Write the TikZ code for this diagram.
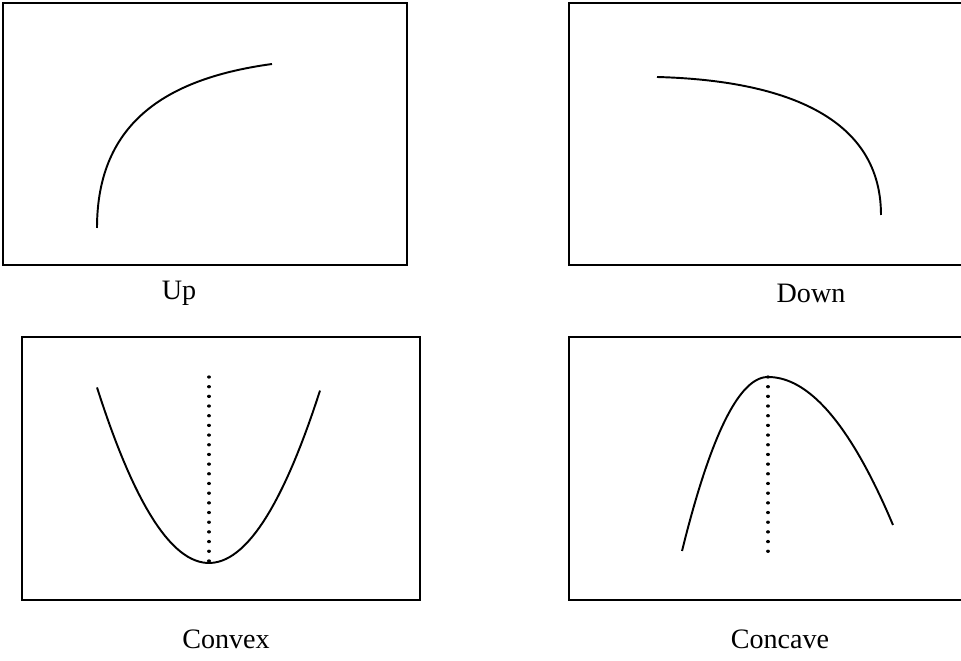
\documentclass[tikz,border=0pt]{standalone}
\usepackage{fontspec}
\setmainfont{Liberation Serif}
\usepackage{tikz}

\begin{document}
\begin{tikzpicture}[x=0.02cm,y=-0.02cm,
    panel/.style={line width=1.3pt},
    curve/.style={line width=1.1pt},
    axis/.style={line width=1.9pt,dash pattern=on 0.01pt off 5.5pt,line cap=round},
    lbl/.style={font=\fontsize{16}{19}\selectfont,inner sep=0pt}]
  \useasboundingbox (0,0) rectangle (961,661);
  % the four panels (right ones run off the page)
  \draw[panel] (3,3) rectangle (407,265);
  \draw[panel] (961,3) -- (569,3) -- (569,265) -- (961,265);
  \draw[panel] (22,337) rectangle (420,600);
  \draw[panel] (961,337) -- (569,337) -- (569,600) -- (961,600);
  % up and down
  \draw[curve] (97,228) .. controls (97,120) and (170,78) .. (272,64);
  \draw[curve] (657,77) .. controls (770,80) and (881,110) .. (881,215);
  % convex
  \draw[axis] (209,377) -- (209,563);
  \draw[curve] plot[domain=97:320,samples=60] (\x,{563-174*((\x-209)/111.5)^2});
  % concave
  \draw[axis] (768,377) -- (768,558);
  \draw[curve] plot[domain=682:768,samples=40] (\x,{377+174*((768-\x)/86)^2})
    -- plot[domain=768:893,samples=40] (\x,{377+148*((\x-768)/125)^2});
  \node[lbl] (up) at (179,293) {Up};
  \node[lbl] (down) at (811,293) {Down};
  \node[lbl] (convex) at (226,639) {Convex};
  \node[lbl] (concave) at (780,639) {Concave};
\end{tikzpicture}
\end{document}
